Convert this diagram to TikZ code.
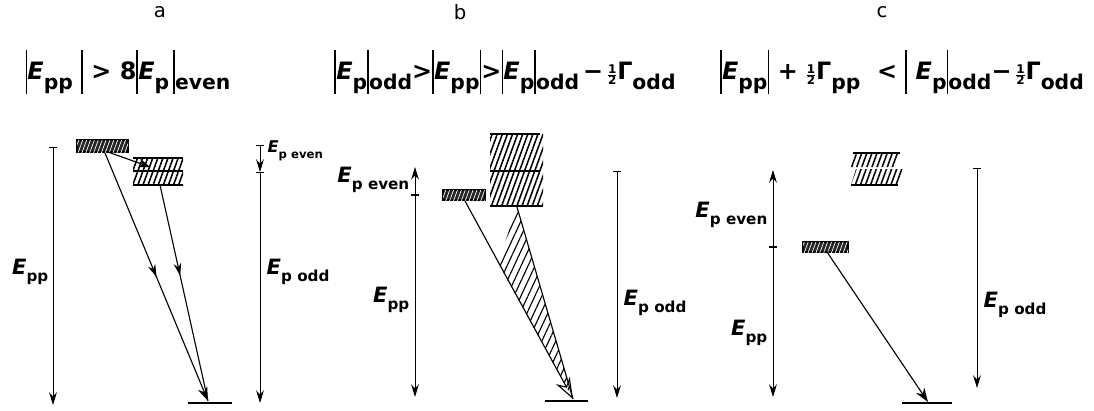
\documentclass[tikz,border=0pt]{standalone}
\usepackage{fontspec}
\setmainfont{DejaVu Sans}
\usetikzlibrary{arrows.meta,positioning,patterns.meta,decorations.markings}

% subscripts, tall modulus bar and small one-half
\newcommand{\lo}[1]{\raisebox{-0.35em}{\scalebox{0.72}{#1}}}
\newcommand{\lob}[1]{\raisebox{-0.42em}{\scalebox{0.85}{#1}}}
\newcommand{\absbar}{\rule[-0.6em]{0.08em}{1.8em}}
\newcommand{\halfof}{\raisebox{0.05em}{\scalebox{0.5}{$\frac{\mbox{1}}{\mbox{2}}$}}}

\begin{document}
\begin{tikzpicture}[
    x=0.025cm, y=-0.025cm,
    title/.style={font=\fontsize{14}{16}\selectfont},
    cond/.style={font=\fontsize{17}{20}\selectfont\bfseries, inner sep=0pt},
    lab/.style={font=\fontsize{15}{18}\selectfont\bfseries, inner sep=1pt},
    smalllab/.style={font=\fontsize{11.5}{14}\selectfont\bfseries, inner sep=1pt},
    energyscale/.style={line width=0.7pt, {Bar[width=5pt]}-{Stealth[length=9pt,width=5.5pt]}},
    trans/.style={line width=0.8pt},
    midarrow/.style={postaction={decorate}, decoration={markings,
        mark=at position #1 with {\arrow{Stealth[length=9pt,width=5.5pt]}}}},
    densebox/.style={draw, line width=1.2pt, fill=black!85,
        postaction={pattern={Lines[angle=70,distance=2.6pt,line width=0.5pt]}, pattern color=white}},
    hatchbox/.style={pattern={Lines[angle=70,distance=3.4pt,line width=1.1pt]}},
    wedge/.style={pattern={Lines[angle=65,distance=4.5pt,line width=0.8pt]}},
    ground/.style={line width=0.9pt},
]
    \useasboundingbox (0,0) rectangle (1094,410);

    % Titles and conditions
    \node[title] (ta) at (160,12) {a};
    \node[title] (tb) at (460,12) {b};
    \node[title] (tc) at (882,12) {c};
    \node[cond] (ca) at (128,72) {\absbar\textit{E}\lob{pp}\ \absbar\ >\ 8\absbar\textit{E}\lob{p}\,\absbar\lob{even}};
    \node[cond] (cb) at (505,72) {\absbar\textit{E}\lob{p}\absbar\lob{odd}>\absbar\textit{E}\lob{pp}\absbar>\absbar\textit{E}\lob{p}\absbar\lob{odd}\,−\,\halfof Γ\lob{odd}};
    \node[cond] (cc) at (902,72) {\absbar\textit{E}\lob{pp}\absbar\ +\ \halfof Γ\lob{pp}\ \ <\ \absbar\ \textit{E}\lob{p}\absbar\lob{odd}−\,\halfof Γ\lob{odd}};

    % ---- panel a ----
    \coordinate (aPPtop) at (53,147);
    \coordinate (aPPbot) at (53,405);
    \coordinate (aEtop) at (260,145);
    \coordinate (aEmid) at (260,172);
    \coordinate (aEbot) at (260,403);
    \draw[densebox] (77,140) rectangle (128,152);
    \fill[hatchbox] (133,158) rectangle (183,170);
    \fill[hatchbox] (133,172) rectangle (183,185);
    \draw[line width=1.2pt] (133,158) -- (183,158) (133,171) -- (183,171) (133,185) -- (183,185);
    \coordinate (aUp) at (108,152);
    \coordinate (aUpL) at (105,153);
    \coordinate (aMid) at (150,167);
    \coordinate (aMidB) at (160,185);
    \coordinate (aG) at (208,401);
    \draw[trans, -{Stealth[length=8pt,width=6pt]}] (aUp) -- (aMid);
    \draw[trans, midarrow=0.5, -{Stealth[length=10pt,width=7pt]}] (aUpL) -- (aG);
    \draw[trans, midarrow=0.42] (aMidB) -- (aG);
    \draw[ground] (188,403) -- (232,403);
    \draw[energyscale] (aPPtop) -- (aPPbot);
    \draw[energyscale] (aEtop) -- (aEmid);
    \draw[energyscale] (aEmid) -- (aEbot);
    \node[lab, anchor=east] (aLpp) at (50,272) {\textit{E}\lo{pp}};
    \node[smalllab, anchor=west] (aLeven) at (266,151) {\textit{E}\lo{p even}};
    \node[lab, anchor=west] (aLodd) at (265,272) {\textit{E}\lo{p odd}};

    % ---- panel b ----
    \coordinate (bEtop) at (415,167);
    \coordinate (bEmid) at (415,195);
    \coordinate (bEbot) at (415,397);
    \coordinate (bOtop) at (617,171);
    \coordinate (bObot) at (617,398);
    \draw[densebox] (443,190) rectangle (485,200);
    \fill[hatchbox] (490,134) rectangle (543,206);
    \draw[line width=1.2pt] (490,134) -- (540,134) (490,171) -- (540,171) (490,206) -- (543,206);
    \coordinate (bLow) at (465,201);
    \coordinate (bHigh) at (517,207);
    \coordinate (bG) at (573,399);
    \fill[wedge] (bHigh) -- (bG) -- (498,263) -- cycle;
    \draw[trans, -{Stealth[open,length=15pt,width=11pt]}] (bLow) -- (bG);
    \draw[trans] (bHigh) -- (bG);
    \draw[ground] (545,401) -- (588,401);
    \draw[energyscale] (bEmid) -- (bEtop);
    \draw[energyscale] (bEmid) -- (bEbot);
    \draw[energyscale] (bOtop) -- (bObot);
    \node[lab, anchor=east] (bLeven) at (411,180) {\textit{E}\lo{p even}};
    \node[lab, anchor=east] (bLpp) at (411,300) {\textit{E}\lo{pp}};
    \node[lab, anchor=west] (bLodd) at (622,303) {\textit{E}\lo{p odd}};

    % ---- panel c ----
    \coordinate (cEtop) at (773,170);
    \coordinate (cEmid) at (773,247);
    \coordinate (cEbot) at (773,397);
    \coordinate (cOtop) at (977,168);
    \coordinate (cObot) at (977,388);
    \draw[densebox] (803,242) rectangle (848,252);
    \fill[hatchbox] (853,153) -- (900,153) -- (895,167) -- (848,167) -- cycle;
    \fill[hatchbox] (856,169) -- (903,169) -- (898,185) -- (851,185) -- cycle;
    \draw[line width=1.2pt] (853,153) -- (900,153) (851,185) -- (898,185);
    \coordinate (cLow) at (827,252);
    \coordinate (cG) at (928,402);
    \draw[trans, -{Stealth[length=10pt,width=7pt]}] (cLow) -- (cG);
    \draw[ground] (902,403) -- (952,403);
    \draw[energyscale] (cEmid) -- (cEtop);
    \draw[energyscale] (cEmid) -- (cEbot);
    \draw[energyscale] (cOtop) -- (cObot);
    \node[lab, anchor=east] (cLeven) at (769,215) {\textit{E}\lo{p even}};
    \node[lab, anchor=east] (cLpp) at (769,333) {\textit{E}\lo{pp}};
    \node[lab, anchor=west] (cLodd) at (982,305) {\textit{E}\lo{p odd}};
\end{tikzpicture}
\end{document}
